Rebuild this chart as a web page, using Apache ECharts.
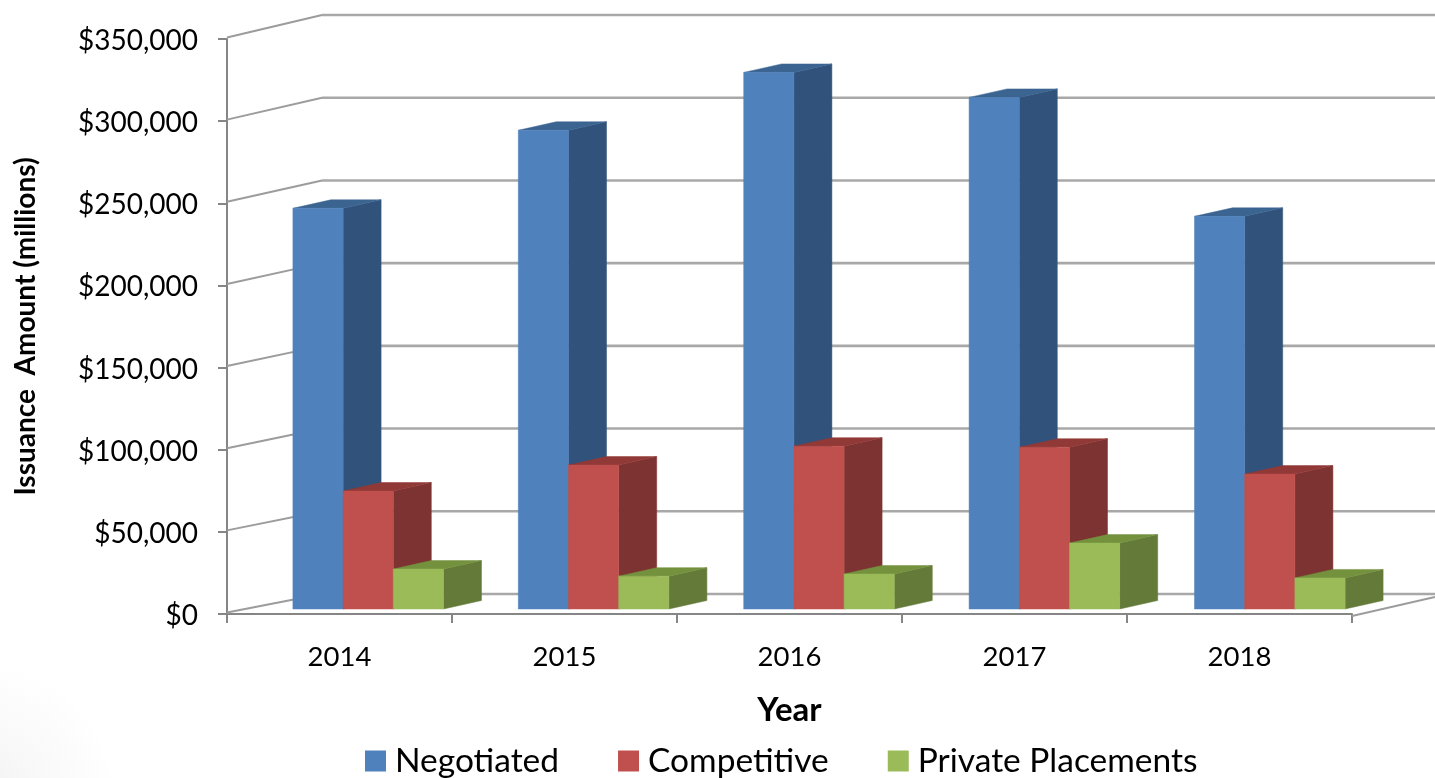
<!DOCTYPE html>
<html>
<head>
<meta charset="utf-8">
<title>Issuance by method of sale</title>
<style>
  html, body { margin: 0; padding: 0; background: #fff; }
  #chart {
    width: 1435px;
    height: 778px;
    background: radial-gradient(circle at -30px 810px, #efefef 0, #f8f8f8 70px, #fff 150px);
    filter: blur(0.5px);
  }
</style>
<script src="https://cdn.jsdelivr.net/npm/echarts@6/dist/echarts.min.js"></script>
</head>
<body>
<div id="chart"></div>
<script>
const years = ['2014', '2015', '2016', '2017', '2018'];
const negotiated = [243900, 291400, 326600, 311400, 239000];
const competitive = [71800, 87600, 99100, 98500, 82100];
const privatePlacements = [24300, 20000, 21300, 40100, 18900];
const yTicks = [0, 50000, 100000, 150000, 200000, 250000, 300000, 350000];

const FONT = 'Lato, "Open Sans", sans-serif';

// faces of each bar: front, top, side
const blues = ['#4f81bd', '#3c6491', '#31527b'];
const reds = ['#c0504d', '#913937', '#7d3331'];
const greens = ['#9bbb59', '#74913e', '#647a39'];

// fake 3d: how far the bars and the back wall sit behind the axis plane
const BAR_DX = 38;
const BAR_DY = -8.5;
const BACK_DX = 95;

function bar3d(slot, faces) {
  return function (params, api) {
    const i = api.value(0);
    const band = api.size([1, 0])[0];
    const w = band * 0.2231;
    const top = api.coord([i, api.value(1)]);
    const base = api.coord([i, 0]);
    // the bars drift a touch against the axis ticks in the original
    const x0 = top[0] + 28.7 + i * 0.4 + (slot - 1.5) * w;
    const x1 = x0 + w;
    const yTop = top[1] - 5;
    const yBase = base[1] - 5;
    const poly = (points, fill) => ({
      type: 'polygon',
      shape: { points },
      style: { fill, stroke: fill, lineWidth: 0.5 }
    });
    return {
      type: 'group',
      children: [
        poly([[x1, yTop], [x1 + BAR_DX, yTop + BAR_DY], [x1 + BAR_DX, yBase + BAR_DY], [x1, yBase]], faces[2]),
        poly([[x0, yTop], [x0 + BAR_DX, yTop + BAR_DY], [x1 + BAR_DX, yTop + BAR_DY], [x1, yTop]], faces[1]),
        poly([[x0, yTop], [x1, yTop], [x1, yBase], [x0, yBase]], faces[0])
      ]
    };
  };
}

function renderWall(params, api) {
  const v = api.value(1);
  const band = api.size([1, 0])[0];
  const p = api.coord([0, v]);
  const left = p[0] - band / 2;
  const right = left + band * years.length;
  const backY = p[1] - 24 + (350000 - v) / 350000 * 4;
  const children = [
    {
      type: 'polyline',
      shape: { points: [[left, p[1] - 1.5], [left + BACK_DX, backY]] },
      style: { stroke: '#9c9c9c', lineWidth: 2, fill: null }
    },
    {
      type: 'polyline',
      shape: { points: [[left + BACK_DX, backY], [api.getWidth(), backY]] },
      style: { stroke: '#a8a8a8', lineWidth: 2.6, fill: null }
    }
  ];
  if (v === 0) {
    children.push({
      type: 'polyline',
      shape: { points: [[right, p[1] + 2], [api.getWidth(), p[1] - 17]] },
      style: { stroke: '#9c9c9c', lineWidth: 2, fill: null }
    });
  }
  return { type: 'group', children };
}

function barSeries(name, values, slot, faces) {
  return {
    name,
    type: 'custom',
    renderItem: bar3d(slot, faces),
    itemStyle: { color: faces[0] },
    encode: { x: 0, y: 1 },
    data: values.map((v, i) => [i, v]),
    z: 3
  };
}

const chart = echarts.init(document.getElementById('chart'));

chart.setOption({
  animation: false,
  backgroundColor: 'transparent',
  textStyle: { fontFamily: FONT },
  grid: { left: 227, right: 83, top: 39, bottom: 164 },
  legend: {
    top: 744,
    left: 365,
    padding: 0,
    itemWidth: 21,
    itemHeight: 21,
    itemGap: 59,
    icon: 'rect',
    textStyle: { fontFamily: FONT, fontSize: 33.5, color: '#000', padding: [0, 0, 0, 4] },
    data: ['Negotiated', 'Competitive', 'Private Placements']
  },
  xAxis: {
    type: 'category',
    data: years,
    offset: 2,
    name: 'Year',
    nameLocation: 'middle',
    nameGap: 78,
    nameTextStyle: { fontFamily: FONT, fontSize: 33, fontWeight: 'bold', color: '#000' },
    axisLine: { lineStyle: { color: '#868686', width: 2 } },
    axisTick: { show: true, length: 9, lineStyle: { color: '#868686', width: 2 } },
    axisLabel: { fontFamily: FONT, fontSize: 27.5, color: '#000', margin: 27 }
  },
  yAxis: {
    type: 'value',
    min: 0,
    max: 350000,
    interval: 50000,
    name: 'Issuance  Amount (millions)',
    nameLocation: 'middle',
    nameGap: 187,
    nameTextStyle: { fontFamily: FONT, fontSize: 28, fontWeight: 'bold', color: '#000' },
    axisLine: { show: true, lineStyle: { color: '#868686', width: 2 } },
    axisTick: { show: true, length: 9, lineStyle: { color: '#868686', width: 2 } },
    axisLabel: {
      color: '#000',
      margin: 29,
      formatter: (v) => '{money|$' + v.toLocaleString('en-US') + '}',
      rich: {
        money: { fontFamily: FONT, fontSize: 28, color: '#000', padding: [4, 0, 0, 0] }
      }
    },
    splitLine: { show: false }
  },
  series: [
    {
      type: 'custom',
      renderItem: renderWall,
      encode: { x: 0, y: 1 },
      data: yTicks.map((t) => [0, t]),
      z: 1,
      silent: true
    },
    barSeries('Negotiated', negotiated, 0, blues),
    barSeries('Competitive', competitive, 1, reds),
    barSeries('Private Placements', privatePlacements, 2, greens)
  ]
});
</script>
</body>
</html>
